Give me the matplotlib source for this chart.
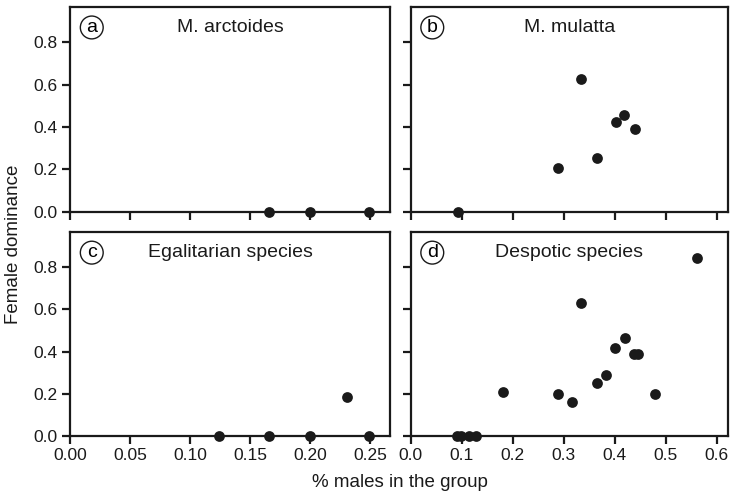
import numpy as np
import matplotlib.pyplot as plt

plt.rcParams['font.family'] = ['Liberation Sans', 'DejaVu Sans']

# panel (a) M. arctoides
arct_x = [0.166, 0.200, 0.249]
arct_y = [0.0, 0.0, 0.0]

# panel (b) M. mulatta
mul_x = [0.092, 0.288, 0.334, 0.365, 0.402, 0.419, 0.440]
mul_y = [0.0, 0.205, 0.627, 0.254, 0.423, 0.459, 0.393]

# panel (c) egalitarian species
egal_x = [0.124, 0.166, 0.200, 0.231, 0.249]
egal_y = [0.0, 0.0, 0.0, 0.185, 0.0]

# panel (d) despotic species
desp_x = [0.090, 0.098, 0.114, 0.128, 0.180, 0.289, 0.317, 0.334, 0.366,
          0.382, 0.400, 0.420, 0.438, 0.446, 0.479, 0.561]
desp_y = [0.0, 0.0, 0.0, 0.0, 0.210, 0.200, 0.160, 0.633, 0.249,
          0.289, 0.417, 0.464, 0.388, 0.388, 0.200, 0.843]

panels = [
    ('a', 'M. arctoides', arct_x, arct_y),
    ('b', 'M. mulatta', mul_x, mul_y),
    ('c', 'Egalitarian species', egal_x, egal_y),
    ('d', 'Despotic species', desp_x, desp_y),
]

fig = plt.figure(figsize=(7.3, 4.98), dpi=100)
W, H = 730.0, 498.0
# axes boxes in pixels: left, top, right, bottom
boxes = [(70, 7, 390, 211.7), (410.7, 7, 728, 211.7),
         (70, 232.3, 390, 435.7), (410.7, 232.3, 728, 435.7)]

axes = []
for i, (lab, title, xs, ys) in enumerate(panels):
    l, t, r, b = boxes[i]
    ax = fig.add_axes([l / W, 1 - b / H, (r - l) / W, (b - t) / H])
    ax.scatter(xs, ys, s=60, color='#1a1a1a', zorder=5, clip_on=False,
               linewidths=0)
    ax.set_ylim(0, 0.967)
    ax.set_yticks([0.0, 0.2, 0.4, 0.6, 0.8])
    if i % 2 == 0:
        ax.set_xlim(0, 0.2667)
        ax.set_xticks([0.0, 0.05, 0.10, 0.15, 0.20, 0.25])
        ax.set_xticklabels(['0.00', '0.05', '0.10', '0.15', '0.20', '0.25'])
        ax.set_yticklabels(['0.0', '0.2', '0.4', '0.6', '0.8'])
    else:
        ax.set_xlim(0, 0.622)
        ax.set_xticks([0.0, 0.1, 0.2, 0.3, 0.4, 0.5, 0.6])
        ax.set_xticklabels(['0.0', '0.1', '0.2', '0.3', '0.4', '0.5', '0.6'])
        ax.set_yticklabels([])
    if i < 2:
        ax.set_xticklabels([])
    for sp in ax.spines.values():
        sp.set_linewidth(1.6)
        sp.set_color('#1a1a1a')
    ax.tick_params(direction='out', length=6, width=1.6, color='#1a1a1a',
                   labelsize=12.5, pad=3, labelcolor='#1a1a1a')
    ax.text(0.068, 0.9, lab, transform=ax.transAxes, fontsize=14,
            ha='center', va='center',
            bbox=dict(boxstyle='circle,pad=0.15', fc='white', ec='#1a1a1a', lw=1.0))
    ax.text(0.5, 0.9, title, transform=ax.transAxes, fontsize=14,
            ha='center', va='center', color='#1a1a1a')
    axes.append(ax)

fig.text(0.018, 0.51, 'Female dominance', rotation=90, ha='center',
         va='center', fontsize=13.5, color='#1a1a1a')
fig.text(0.548, 0.032, '% males in the group', ha='center', va='center',
         fontsize=13.5, color='#1a1a1a')

fig.savefig('out.png', dpi=100)
